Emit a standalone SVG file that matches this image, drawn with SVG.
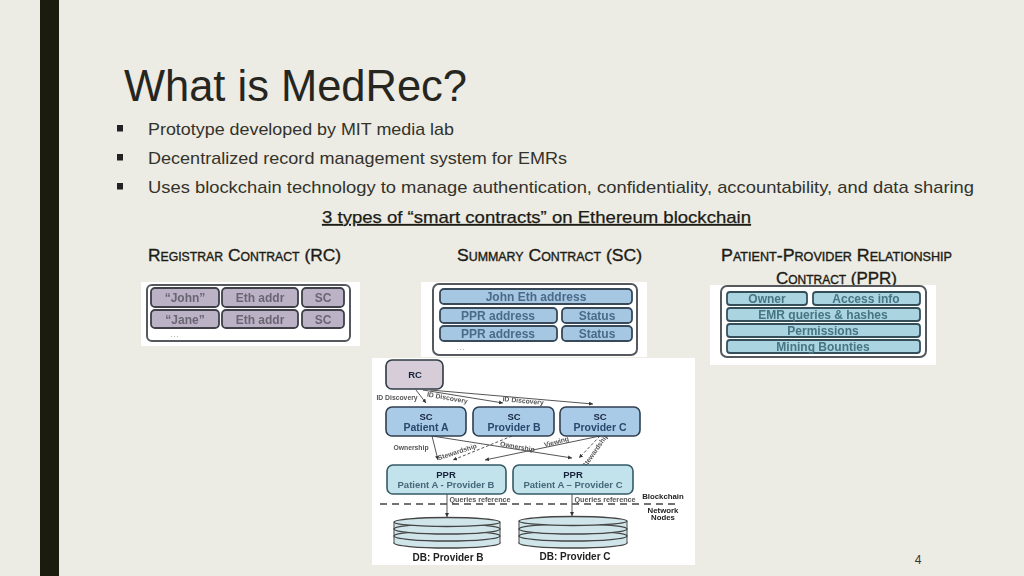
<svg xmlns="http://www.w3.org/2000/svg" width="1024" height="576" viewBox="0 0 1024 576">
<style>
text{font-family:"Liberation Sans",Arial,sans-serif}
.bt{font-size:17px;fill:#33332b}
.hd{font-size:17px;fill:#1c1c14;font-variant:small-caps;stroke:#1c1c14;stroke-width:.35}
.o{fill:#fff;stroke:#55595c;stroke-width:2}
.r{fill:#bcb2c6;stroke:#3f3f4a;stroke-width:1.800}
.s{fill:#a6c7e2;stroke:#39495a;stroke-width:1.800}
.p{fill:#a9d4e0;stroke:#35505a;stroke-width:1.800}
.t{font-size:12px;font-weight:bold;text-anchor:middle}
.tr{fill:#6a6572}.ts{fill:#4b6a8a}.tp{fill:#467482}
.n1{fill:#d6cdd9;stroke:#2f3a44;stroke-width:1.600}
.n2{fill:#a9cbe8;stroke:#2f3f4f;stroke-width:1.600}
.n3{fill:#c3e3ec;stroke:#355a66;stroke-width:1.600}
.h{font-size:9.500px;font-weight:bold;text-anchor:middle;fill:#16233a}
.q{font-size:9.500px;font-weight:bold;text-anchor:middle;fill:#44687a}
.l{font-size:6.800px;text-anchor:middle;fill:#555;font-weight:bold}
.k{font-size:7.800px;font-weight:bold;text-anchor:middle;fill:#222}
.db{font-size:10px;font-weight:bold;text-anchor:middle;fill:#222}
.c{fill:none;stroke:#555;stroke-width:1;marker-end:url(#a)}
.d{stroke-dasharray:3 2}
.disk{fill:#cfe5ea;stroke:#444;stroke-width:1.300}
.dots{font-size:8px;fill:#888;text-anchor:middle;letter-spacing:1px}
</style>
<defs>
<marker id="a" markerWidth="5" markerHeight="5" refX="4" refY="2" orient="auto"><path d="M0 0L4 2L0 4Z" fill="#333"/></marker>
<filter id="b" x="-5%" y="-5%" width="110%" height="110%"><feGaussianBlur stdDeviation=".6"/></filter>
</defs>
<rect width="1024" height="576" fill="#ecebe4"/>
<rect x="40" y="0" width="19" height="576" fill="#1b1b0e"/>
<text id="title" x="124" y="101" font-size="44" fill="#26261e" textLength="343" lengthAdjust="spacingAndGlyphs">What is MedRec?</text>
<g id="bullets">
<rect x="117" y="125" width="6" height="6.500" fill="#222"/>
<rect x="117" y="154" width="6" height="6.500" fill="#222"/>
<rect x="117" y="183" width="6" height="6.500" fill="#222"/>
<text class="bt" x="148" y="135" textLength="306" lengthAdjust="spacingAndGlyphs">Prototype developed by MIT media lab</text>
<text class="bt" x="148" y="164" textLength="419" lengthAdjust="spacingAndGlyphs">Decentralized record management system for EMRs</text>
<text class="bt" x="148" y="193" textLength="826" lengthAdjust="spacingAndGlyphs">Uses blockchain technology to manage authentication, confidentiality, accountability, and data sharing</text>
</g>
<text id="subtitle" x="322" y="223" font-size="17" fill="#1c1c14" stroke="#1c1c14" stroke-width=".25" text-decoration="underline" textLength="429" lengthAdjust="spacingAndGlyphs">3 types of “smart contracts” on Ethereum blockchain</text>
<text id="h1" class="hd" x="148" y="261" textLength="193" lengthAdjust="spacingAndGlyphs">Registrar Contract (RC)</text>
<text id="h2" class="hd" x="457" y="261" textLength="185" lengthAdjust="spacingAndGlyphs">Summary Contract (SC)</text>
<text id="h3a" class="hd" x="721" y="261" textLength="231" lengthAdjust="spacingAndGlyphs">Patient-Provider Relationship</text>
<text id="h3b" class="hd" x="776" y="284" textLength="121" lengthAdjust="spacingAndGlyphs">Contract (PPR)</text>

<g id="panel-rc" filter="url(#b)">
<rect x="141" y="282" width="219" height="64" fill="#fff"/>
<rect class="o" x="147" y="285" width="203" height="56" rx="5"/>
<rect class="r" x="151" y="288" width="68" height="19" rx="4"/><rect class="r" x="222" y="288" width="76" height="19" rx="4"/><rect class="r" x="302" y="288" width="42" height="19" rx="4"/>
<rect class="r" x="151" y="310" width="68" height="18" rx="4"/><rect class="r" x="222" y="310" width="76" height="18" rx="4"/><rect class="r" x="302" y="310" width="42" height="18" rx="4"/>
<text class="t tr" x="185" y="302">“John”</text><text class="t tr" x="260" y="302">Eth addr</text><text class="t tr" x="323" y="302">SC</text>
<text class="t tr" x="185" y="324">“Jane”</text><text class="t tr" x="260" y="324">Eth addr</text><text class="t tr" x="323" y="324">SC</text>
<text class="dots" x="175" y="337">...</text>
</g>
<g id="panel-sc" filter="url(#b)">
<rect x="421" y="282" width="226" height="75" fill="#fff"/>
<rect class="o" x="433" y="284" width="204" height="71" rx="6"/>
<rect class="s" x="440" y="289" width="192" height="15" rx="4"/>
<rect class="s" x="440" y="308" width="117" height="15" rx="4"/><rect class="s" x="562" y="308" width="70" height="15" rx="4"/>
<rect class="s" x="440" y="326" width="117" height="15" rx="4"/><rect class="s" x="562" y="326" width="70" height="15" rx="4"/>
<text class="t ts" x="536" y="301">John Eth address</text>
<text class="t ts" x="498" y="320">PPR address</text><text class="t ts" x="597" y="320">Status</text>
<text class="t ts" x="498" y="338">PPR address</text><text class="t ts" x="597" y="338">Status</text>
<text class="dots" x="461" y="350">...</text>
</g>
<g id="panel-ppr" filter="url(#b)">
<rect x="710" y="285" width="226" height="80" fill="#fff"/>
<rect class="o" x="721" y="286" width="205" height="71" rx="6"/>
<rect class="p" x="727" y="292" width="80" height="13" rx="3"/><rect class="p" x="813" y="292" width="107" height="13" rx="3"/>
<rect class="p" x="727" y="308" width="193" height="13" rx="3"/><rect class="p" x="727" y="324" width="193" height="13" rx="3"/><rect class="p" x="727" y="340" width="193" height="13" rx="3"/>
<text class="t tp" x="767" y="303">Owner</text><text class="t tp" x="866" y="303">Access info</text>
<text class="t tp" x="823" y="319">EMR queries &amp; hashes</text><text class="t tp" x="823" y="335">Permissions</text><text class="t tp" x="823" y="351">Mining Bounties</text>
</g>

<g id="flow" filter="url(#b)">
<rect x="372" y="358" width="323" height="207" fill="#fff"/>
<g id="connectors">
<path class="c" d="M416 390L426 403"/>
<path class="c" d="M423 390L503 403"/>
<path class="c" d="M430 390L593 404"/>
<path class="c" d="M432 436L438 460"/>
<path class="c" d="M432 436L572 458"/>
<path class="c d" d="M512 436L453 460"/>
<path class="c" d="M600 436L485 460"/>
<path class="c d" d="M600 436L579 458"/>
<path class="c" d="M447 494L447 517"/>
<path class="c" d="M572 494L572 516"/>
<path d="M380 504H680" fill="none" stroke="#444" stroke-width="1.300" stroke-dasharray="7 5"/>
<text class="l" x="397" y="400">ID Discovery</text>
<text class="l" transform="translate(447 400) rotate(10)">ID Discovery</text>
<text class="l" transform="translate(523 403) rotate(5)">ID Discovery</text>
<text class="l" x="411" y="450">Ownership</text>
<text class="l" transform="translate(458 454) rotate(-18)">Stewardship</text>
<text class="l" transform="translate(517 449) rotate(10)">Ownership</text>
<text class="l" transform="translate(557 444) rotate(-15)">Viewing</text>
<text class="l" transform="translate(597 452) rotate(-55)">Stewardship</text>
<text class="l" x="480" y="502" style="font-size:7.200px">Queries reference</text>
<text class="l" x="605" y="502" style="font-size:7.200px">Queries reference</text>
</g>
<g id="node-rc"><rect class="n1" x="386" y="360" width="57" height="29" rx="6"/><text class="h" x="415" y="378">RC</text></g>
<g id="node-sc-a"><rect class="n2" x="386" y="407" width="80" height="29" rx="6"/><text class="h" x="426" y="420">SC</text><text class="q" x="426" y="431" style="fill:#27496c;font-size:10.500px">Patient A</text></g>
<g id="node-sc-b"><rect class="n2" x="473" y="407" width="81" height="29" rx="6"/><text class="h" x="514" y="420">SC</text><text class="q" x="514" y="431" style="fill:#27496c;font-size:10.500px">Provider B</text></g>
<g id="node-sc-c"><rect class="n2" x="560" y="407" width="80" height="29" rx="6"/><text class="h" x="600" y="420">SC</text><text class="q" x="600" y="431" style="fill:#27496c;font-size:10.500px">Provider C</text></g>
<g id="node-ppr-b"><rect class="n3" x="387" y="465" width="119" height="29" rx="6"/><text class="h" x="446" y="478">PPR</text><text class="q" x="446" y="488">Patient A - Provider B</text></g>
<g id="node-ppr-c"><rect class="n3" x="513" y="465" width="120" height="29" rx="6"/><text class="h" x="573" y="478">PPR</text><text class="q" x="573" y="488">Patient A – Provider C</text></g>
<g id="node-db-b">
<ellipse class="disk" cx="447" cy="543" rx="53" ry="5"/><rect x="394" y="522" width="106" height="21" fill="#cfe5ea"/><path d="M394 522V543M500 522V543" stroke="#444" fill="none"/>
<ellipse class="disk" cx="447" cy="536" rx="53" ry="5"/><ellipse class="disk" cx="447" cy="529" rx="53" ry="5"/><ellipse class="disk" cx="447" cy="522" rx="53" ry="4.500"/>
<text class="db" x="448" y="561">DB: Provider B</text></g>
<g id="node-db-c">
<ellipse class="disk" cx="573" cy="543" rx="54" ry="5"/><rect x="519" y="521" width="108" height="22" fill="#cfe5ea"/><path d="M519 521V543M627 521V543" stroke="#444" fill="none"/>
<ellipse class="disk" cx="573" cy="536" rx="54" ry="5"/><ellipse class="disk" cx="573" cy="529" rx="54" ry="5"/><ellipse class="disk" cx="573" cy="521" rx="54" ry="4.500"/>
<text class="db" x="575" y="560">DB: Provider C</text></g>
<text class="k" x="663" y="499">Blockchain</text>
<text class="k" x="663" y="513">Network</text>
<text class="k" x="663" y="520">Nodes</text>
</g>
<text id="page" x="918" y="564" font-size="12" fill="#333" text-anchor="middle">4</text>
</svg>
